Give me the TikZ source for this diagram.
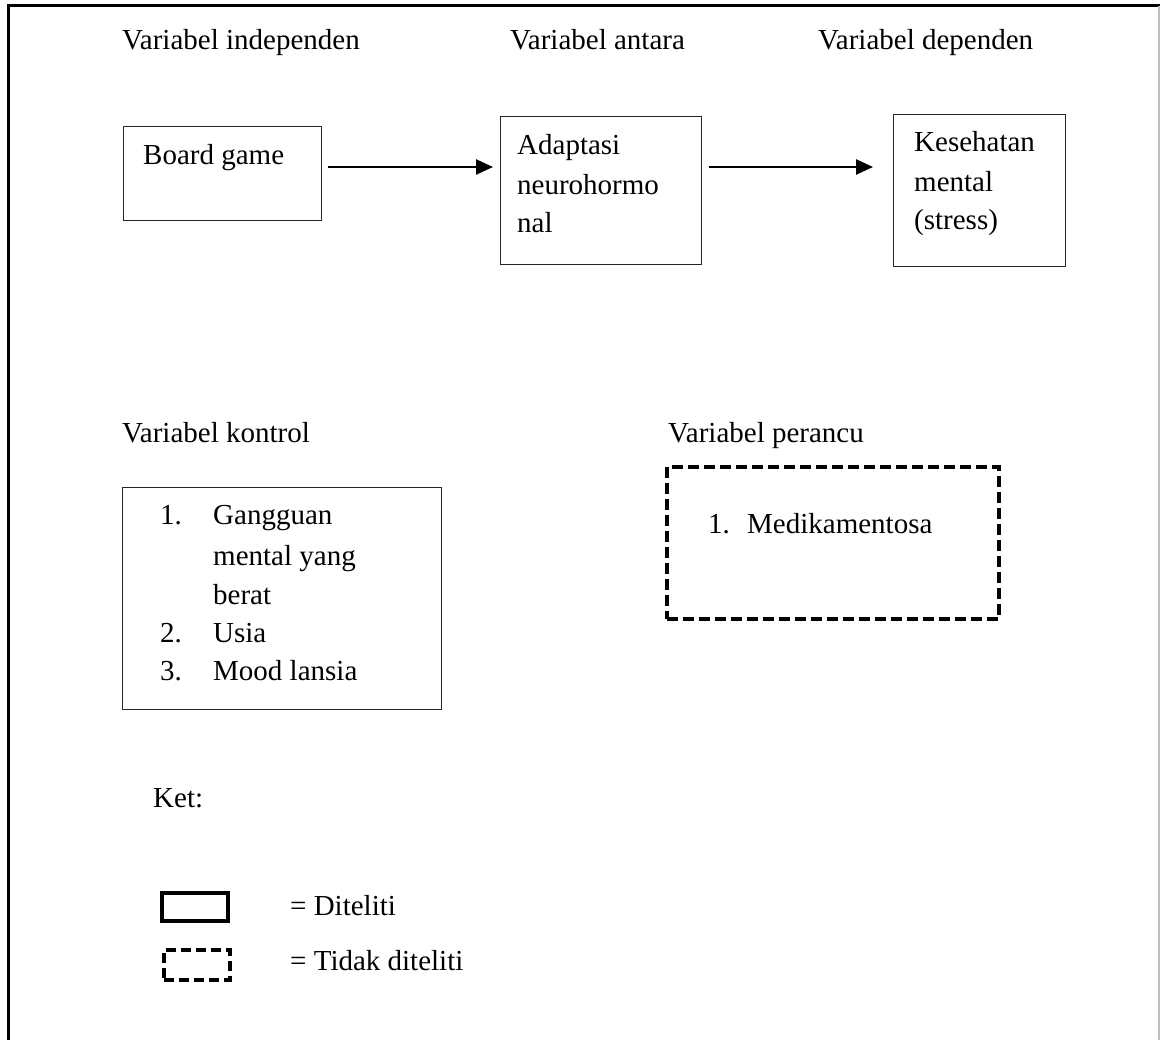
\documentclass[tikz,border=0pt]{standalone}
\usepackage{fontspec}
\setmainfont{Liberation Serif}
\usetikzlibrary{arrows.meta}
\begin{document}
\begin{tikzpicture}[x=1pt,y=-1pt,
  txt/.style={anchor=base west,inner sep=0pt,font=\fontsize{29}{39}\selectfont},
  solidbox/.style={draw=black!85,line width=1.3pt,anchor=north west,inner sep=0pt},
  dashbox/.style={draw=black,line width=4pt,dash pattern=on 11pt off 5pt,anchor=north west,inner sep=0pt},
  arr/.style={line width=2.5pt,-{Triangle[length=17pt,width=15pt]}}]
\useasboundingbox (0,0) rectangle (1160,1040);
% outer frame
\draw[line width=3pt] (8,1040) -- (8,6) -- (1160,6);
\draw[black!25,line width=1.2pt] (1159,6) -- (1159,1040);
% headers
\node[txt] (h1) at (122,50) {Variabel independen};
\node[txt] (h2) at (510,50) {Variabel antara};
\node[txt] (h3) at (818,50) {Variabel dependen};
% top boxes
\node[solidbox,minimum width=198pt,minimum height=94pt] (bg) at (123,126) {};
\node[txt] (bgt) at (143,165) {Board game};
\node[solidbox,minimum width=201pt,minimum height=148pt] (ad) at (500,116) {};
\node[txt] (ad1) at (517,155) {Adaptasi};
\node[txt] (ad2) at (517,195) {neurohormo};
\node[txt] (ad3) at (517,233) {nal};
\node[solidbox,minimum width=172pt,minimum height=152pt] (ks) at (893,114) {};
\node[txt] (ks1) at (914,152) {Kesehatan};
\node[txt] (ks2) at (914,192) {mental};
\node[txt] (ks3) at (914,230) {(stress)};
\coordinate (row) at (0,167);
\draw[arr,shorten <=6pt,shorten >=7pt] (bg.east |- row) -- (ad.west |- row);
\draw[arr,shorten <=7pt,shorten >=20pt] (ad.east |- row) -- (ks.west |- row);
% middle headers
\node[txt] (h4) at (122,443) {Variabel kontrol};
\node[txt] (h5) at (668,443) {Variabel perancu};
% control box
\node[solidbox,minimum width=319pt,minimum height=222pt] (kb) at (122,487) {};
\node[txt] (k1n) at (160,525) {1.};
\node[txt] (k1) at (213,525) {Gangguan};
\node[txt] (k1b) at (213,565) {mental yang};
\node[txt] (k1c) at (213,604) {berat};
\node[txt] (k2n) at (160,642) {2.};
\node[txt] (k2) at (213,642) {Usia};
\node[txt] (k3n) at (160,680) {3.};
\node[txt] (k3) at (213,680) {Mood lansia};
% confounder box
\node[dashbox,minimum width=332pt,minimum height=152pt] (pb) at (665,465) {};
\node[txt] (p1n) at (708,533) {1.};
\node[txt] (p1) at (747,533) {Medikamentosa};
% legend
\node[txt] (ket) at (153,807) {Ket:};
\node[draw=black,line width=4pt,anchor=north west,inner sep=0pt,minimum width=66pt,minimum height=28pt] (ls) at (160,891) {};
\node[txt] (lst) at (290,915) {= Diteliti};
\node[draw=black,line width=4pt,dash pattern=on 10pt off 5pt,anchor=north west,inner sep=0pt,minimum width=66pt,minimum height=30pt] (ld) at (162,948) {};
\node[txt] (ldt) at (290,970) {= Tidak diteliti};
\end{tikzpicture}
\end{document}
